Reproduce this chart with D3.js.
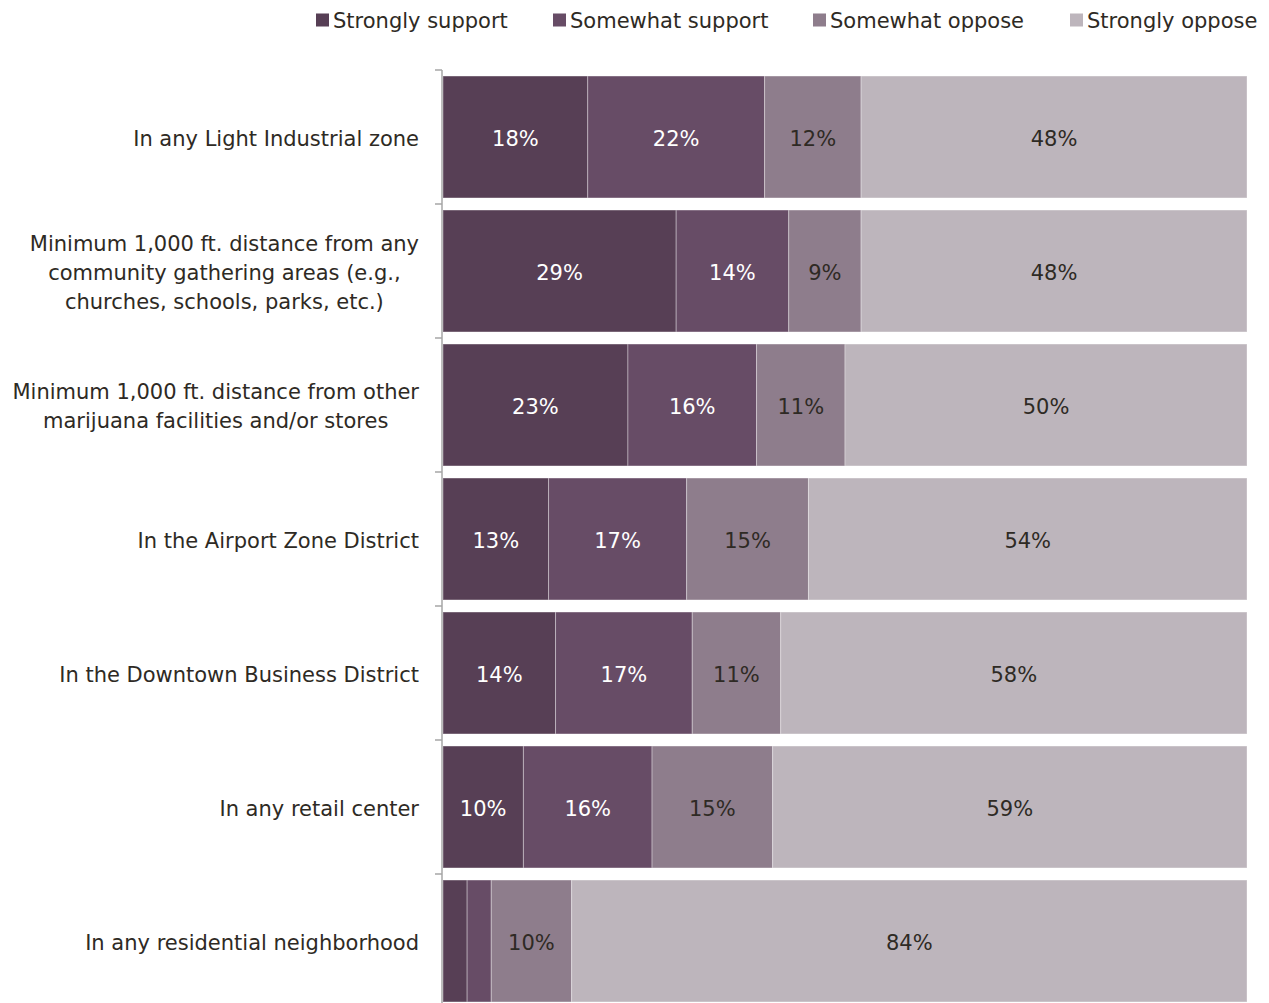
<!DOCTYPE html>
<html>
<head>
<meta charset="utf-8">
<script src="https://cdn.jsdelivr.net/npm/d3@7"></script>
<style>
  html, body { margin: 0; padding: 0; background: #ffffff; }
  svg { display: block; font-family: "DejaVu Sans", Verdana, sans-serif; }
</style>
</head>
<body>
<svg id="chart" width="1269" height="1003"></svg>
<script>
// Survey items, top to bottom (line breaks as drawn)
const categories = [
  ["In any Light Industrial zone"],
  ["Minimum 1,000 ft. distance from any", "community gathering areas (e.g.,", "churches, schools, parks, etc.)"],
  ["Minimum 1,000 ft. distance from other", "marijuana facilities and/or stores"],
  ["In the Airport Zone District"],
  ["In the Downtown Business District"],
  ["In any retail center"],
  ["In any residential neighborhood"]
];

const seriesNames = ["Strongly support", "Somewhat support", "Somewhat oppose", "Strongly oppose"];

// Percent of respondents per item
const stronglySupport = [18, 29, 23, 13, 14, 10, 3];
const somewhatSupport = [22, 14, 16, 17, 17, 16, 3];
const somewhatOppose  = [12,  9, 11, 15, 11, 15, 10];
const stronglyOppose  = [48, 48, 50, 54, 58, 59, 84];

// Which values carry a printed label (the two thin slivers on the last row do not)
const labelShown = [
  [true, true, true, true],
  [true, true, true, true],
  [true, true, true, true],
  [true, true, true, true],
  [true, true, true, true],
  [true, true, true, true],
  [false, false, true, true]
];

const colors = ["#573f55", "#674c66", "#8e7d8c", "#bdb5bc"];
const labelColors = ["#ffffff", "#ffffff", "#2e2a24", "#2e2a24"];

const rows = categories.map((c, i) => ({
  idx: i,
  [seriesNames[0]]: stronglySupport[i],
  [seriesNames[1]]: somewhatSupport[i],
  [seriesNames[2]]: somewhatOppose[i],
  [seriesNames[3]]: stronglyOppose[i]
}));

const svg = d3.select("#chart");
const margin = { left: 443, right: 22, top: 70 };
const plotW = 1269 - margin.left - margin.right;
const bandStep = 134;
const plotH = bandStep * categories.length;
const fontSize = 21;

const x = d3.scaleLinear().domain([0, 1]).range([margin.left, margin.left + plotW]);
const y = d3.scaleBand()
  .domain(d3.range(categories.length))
  .range([margin.top, margin.top + plotH])
  .paddingInner(0.09)
  .paddingOuter(0.045);

const stack = d3.stack().keys(seriesNames).offset(d3.stackOffsetExpand);
const stacked = stack(rows);

// Bars
const layers = svg.append("g").selectAll("g")
  .data(stacked)
  .join("g")
  .attr("fill", (d, i) => colors[i]);

layers.selectAll("rect")
  .data(d => d)
  .join("rect")
  .attr("x", d => x(d[0]))
  .attr("y", d => y(d.data.idx))
  .attr("width", d => x(d[1]) - x(d[0]))
  .attr("height", y.bandwidth())
  .attr("stroke", "#ffffff")
  .attr("stroke-opacity", 0.35)
  .attr("stroke-width", 1);

// Value labels
stacked.forEach((layer, si) => {
  svg.append("g").selectAll("text")
    .data(layer.filter(d => labelShown[d.data.idx][si]))
    .join("text")
    .attr("x", d => (x(d[0]) + x(d[1])) / 2)
    .attr("y", d => y(d.data.idx) + y.bandwidth() / 2 + 1)
    .attr("dy", "0.36em")
    .attr("text-anchor", "middle")
    .attr("font-size", fontSize)
    .attr("fill", labelColors[si])
    .text(d => d.data[seriesNames[si]] + "%");
});

// Category axis: line plus ticks on band boundaries
const axisG = svg.append("g");
const boundaries = d3.range(categories.length + 1).map(i => margin.top + i * bandStep);
axisG.append("line")
  .attr("x1", margin.left - 1).attr("x2", margin.left - 1)
  .attr("y1", margin.top).attr("y2", margin.top + plotH)
  .attr("stroke", "#a6a6a6").attr("stroke-width", 1.5);
axisG.selectAll("line.tick")
  .data(boundaries)
  .join("line")
  .attr("class", "tick")
  .attr("x1", margin.left - 8).attr("x2", margin.left - 1)
  .attr("y1", d => d).attr("y2", d => d)
  .attr("stroke", "#a6a6a6").attr("stroke-width", 1.5);

// Category labels: block right-aligned, lines centred within block
const lineH = 29;
const labelRight = 419;
categories.forEach((lines, i) => {
  const cy = y(i) + y.bandwidth() / 2 + 1;
  const g = svg.append("g");
  const texts = g.selectAll("text")
    .data(lines)
    .join("text")
    .attr("font-size", fontSize)
    .attr("fill", "#2e2a24")
    .attr("text-anchor", "middle")
    .attr("y", (d, j) => cy + (j - (lines.length - 1) / 2) * lineH)
    .attr("dy", "0.36em")
    .text(d => d);
  let maxW = 0;
  texts.each(function () { maxW = Math.max(maxW, this.getComputedTextLength()); });
  texts.attr("x", labelRight - maxW / 2);
});

// Legend
const legendX = [316, 553, 813, 1070];
const legend = svg.append("g").selectAll("g")
  .data(seriesNames)
  .join("g")
  .attr("transform", (d, i) => `translate(${legendX[i]},20)`);
legend.append("rect")
  .attr("x", 0).attr("y", -6.5)
  .attr("width", 13).attr("height", 13)
  .attr("fill", (d, i) => colors[i]);
legend.append("text")
  .attr("x", 17)
  .attr("dy", "0.36em")
  .attr("font-size", fontSize)
  .attr("fill", "#2e2a24")
  .text(d => d);
</script>
</body>
</html>
